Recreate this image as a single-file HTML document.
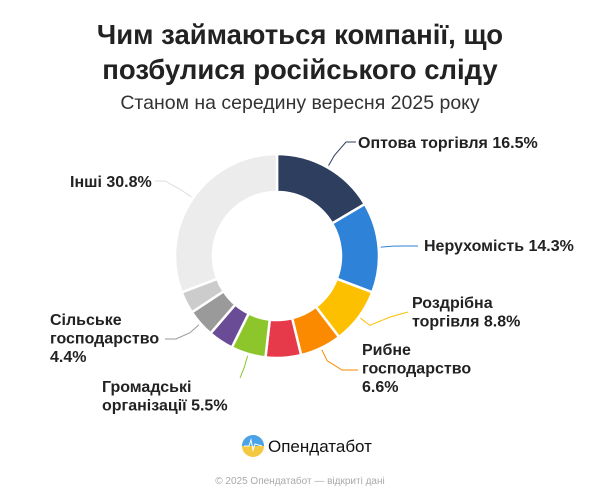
<!DOCTYPE html>
<html><head><meta charset="utf-8"><style>
body{margin:0;width:600px;height:500px;background:#fff;font-family:"Liberation Sans",sans-serif;overflow:hidden}
svg{position:absolute;left:0;top:0}
</style></head><body>
<svg width="600" height="500">
<text x="300" y="44" text-anchor="middle" font-size="27.5" font-weight="bold" fill="#222">Чим займаються компанії, що</text>
<text x="300" y="79" text-anchor="middle" font-size="27.5" font-weight="bold" fill="#222">позбулися російського сліду</text>
<text x="300" y="109" text-anchor="middle" font-size="19.5" fill="#333">Станом на середину вересня 2025 року</text>
<g id="slices"></g>
<g id="labels"></g>
<g>
<circle cx="253" cy="446" r="11" fill="#f5c842"/>
<path d="M242 446 A11 11 0 0 1 264 446 Z" fill="#4aa3e8"/>
<polyline points="244,446 249,446 251,440 253,450 255,444 262,446" fill="none" stroke="#fff" stroke-width="1"/>
<text x="268" y="452" font-size="17" fill="#111">Опендатабот</text>
</g>
<text x="300" y="484" text-anchor="middle" font-size="10" fill="#aaa">© 2025 Опендатабот — відкриті дані</text>
</svg>
<script>
const categories=["Оптова торгівля","Нерухомість","Роздрібна торгівля","Рибне господарство","Інше (червоний)","Громадські організації","Інше (фіолетовий)","Сільське господарство","Інше (сірий)","Інші"];
const values=[16.5,14.3,8.8,6.6,5.6,5.5,4.0,4.4,3.5,30.8];
const colors=["#2d3e5e","#2e82d8","#fdc000","#fb8a00","#e63a4a","#8cc62a","#6a4c96","#9a9a9a","#cccccc","#ececec"];
const cx=277,cy=256,R=102,r=64;
const NS="http://www.w3.org/2000/svg";
const total=values.reduce((a,b)=>a+b,0);
function ang(v){return v/total*Math.PI*2-Math.PI/2;}
function pt(a,rad){return [cx+rad*Math.cos(a),cy+rad*Math.sin(a)];}
const g=document.getElementById('slices');
let acc=0;const mids=[];
values.forEach((v,i)=>{
 const a0=ang(acc),a1=ang(acc+v);acc+=v;mids.push((a0+a1)/2);
 const large=(a1-a0)>Math.PI?1:0;
 const p1=pt(a0,R),p2=pt(a1,R),p3=pt(a1,r),p4=pt(a0,r);
 const p=document.createElementNS(NS,'path');
 p.setAttribute('d',`M${p1} A${R} ${R} 0 ${large} 1 ${p2} L${p3} A${r} ${r} 0 ${large} 0 ${p4} Z`);
 p.setAttribute('fill',colors[i]);p.setAttribute('stroke','#fff');p.setAttribute('stroke-width','2.5');p.setAttribute('stroke-linejoin','round');
 
 
 g.appendChild(p);
});
const labels=[
 {i:0,lines:["Оптова торгівля 16.5%"],tx:358,ty:148,line:[[356,142],[346,142]]},
 {i:1,lines:["Нерухомість 14.3%"],tx:424,ty:251,line:[[418,246],[406,246]]},
 {i:2,lines:["Роздрібна","торгівля 8.8%"],tx:412,ty:308,line:[[408,312],[390,317]]},
 {i:3,lines:["Рибне","господарство","6.6%"],tx:362,ty:355,line:[[358,370],[342,370]]},
 {i:5,lines:["Громадські","організації 5.5%"],tx:102,ty:392,line:[[240,378],[240,378]]},
 {i:7,lines:["Сільське","господарство","4.4%"],tx:50,ty:325,line:[[165,339],[176,339]]},
 {i:9,lines:["Інші 30.8%"],tx:70,ty:187,line:[[155,181],[165,181]]}
];
const lg=document.getElementById('labels');
labels.forEach((L,k)=>{
 const m=mids[L.i];const e=pt(m,R+2),e2=pt(m,R+14);
 const pl=document.createElementNS(NS,'polyline');
 pl.setAttribute('points',`${e} ${e2} ${L.line[1]} ${L.line[0]}`);
 pl.setAttribute('fill','none');pl.setAttribute('stroke',L.i==9?'#ddd':colors[L.i]);pl.setAttribute('stroke-width','1');
 
 
 lg.appendChild(pl);
 const t=document.createElementNS(NS,'text');
 t.setAttribute('x',L.tx);t.setAttribute('y',L.ty);t.setAttribute('font-size','16');t.setAttribute('font-weight','bold');t.setAttribute('fill','#222');
 
 
 L.lines.forEach((s,j)=>{const ts=document.createElementNS(NS,'tspan');ts.setAttribute('x',L.tx);ts.setAttribute('dy',j?18.5:0);ts.textContent=s;t.appendChild(ts);});
 lg.appendChild(t);
});
</script>
</body></html>
